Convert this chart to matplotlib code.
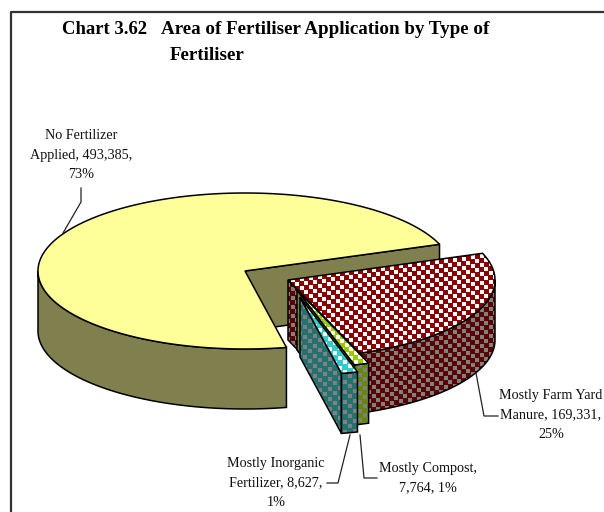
import numpy as np
import matplotlib
matplotlib.use("Agg")
import matplotlib.pyplot as plt
from matplotlib.patches import Polygon

plt.rcParams['font.family'] = ['Liberation Serif', 'DejaVu Serif']

# data
labels = ["No Fertilizer\nApplied, 493,385,\n73%",
          "Mostly Farm Yard\nManure, 169,331,\n25%",
          "Mostly Compost,\n7,764, 1%",
          "Mostly Inorganic\nFertilizer, 8,627,\n1%"]
values = np.array([493385, 169331, 7764, 8627])

# drawn in clockwise order from the start angle, in screen pixels
order = [1, 2, 3, 0]
centers = {0: (245, 271), 1: (288, 280), 2: (297, 290), 3: (300, 297)}
top_col = {0: '#FFFF99', 1: '#8B0000', 2: '#99CC00', 3: '#33CCCC'}
wall_col = {0: '#80804F', 1: '#5A0000', 2: '#668800', 3: '#237272'}
dot_gap = {1: 9.0, 2: 9.0, 3: 10.0}
rx, ry, depth = 207, 78, 60
start = 20.0

fig = plt.figure(figsize=(6.04, 5.12), dpi=100)
ax = fig.add_axes([0, 0, 1, 1])
ax.set_xlim(0, 604)
ax.set_ylim(512, 0)
ax.axis('off')


def rim(c, a0, a1):
    t = np.radians(np.linspace(a0, a1, max(int(abs(a1 - a0) * 2), 2)))
    return np.column_stack([c[0] + rx * np.cos(t), c[1] - ry * np.sin(t)])


def face(pts, col, z, dot=None, gap=8.0):
    p = Polygon(pts, closed=True, facecolor=col, edgecolor='none', zorder=z)
    ax.add_patch(p)
    if dot:
        # staggered little squares, clipped to the face
        jj, ii = np.mgrid[0:130, 0:80]
        dx = ii * gap + (jj % 2) * gap / 2
        dy = jj * gap / 2 - dx / 8.0 + 60
        s = ax.scatter(dx.ravel(), dy.ravel(), s=5, marker='s', color=dot, linewidths=0, zorder=z)
        s.set_clip_path(p)
    ax.add_patch(Polygon(pts, closed=True, fill=False, edgecolor='black', lw=1.1, zorder=z))


angle = start
spans = {}
for i in order:
    sweep = values[i] / values.sum() * 360
    spans[i] = (angle, angle - sweep)
    angle -= sweep

down = np.array([0, depth])

# yellow slice first, it sits behind the rest
a0, a1 = spans[0]
c = centers[0]
cpt = np.array(c)
r = rim(c, a0, a1)
face(np.vstack([cpt, r[-1], r[-1] + down, cpt + down]), wall_col[0], 2)
o = rim(c, -180, a0)
face(np.vstack([o, (o + down)[::-1]]), wall_col[0], 3)
face(np.vstack([cpt, r]), top_col[0], 4)

z = 6
for i in [1, 2, 3]:
    a0, a1 = spans[i]
    c = centers[i]
    cpt = np.array(c)
    r = rim(c, a0, a1)
    face(np.vstack([cpt, r[-1], r[-1] + down, cpt + down]), wall_col[i], z, '#808080', dot_gap[i])
    o = rim(c, min(a0, 0), a1)
    face(np.vstack([o, (o + down)[::-1]]), wall_col[i], z + 1, '#808080', dot_gap[i])
    face(np.vstack([cpt, r]), top_col[i], z + 2, 'white', dot_gap[i])
    z += 3

# frame, only top and left are visible
ax.plot([11, 11, 604], [512, 12, 12], color='#333333', lw=1.6, zorder=1)

# title
ax.text(62, 29, "Chart 3.62", fontsize=13.4, fontweight='bold', ha='left', va='center')
ax.text(161, 29, "Area of Fertiliser Application by Type of", fontsize=13.7,
        fontweight='bold', ha='left', va='center')
ax.text(170, 55, "Fertiliser", fontsize=13.7, fontweight='bold', ha='left', va='center')

# labels
lab_pos = [(81, 155), (551, 415), (428, 478), (276, 483)]
for t, (x, y) in zip(labels, lab_pos):
    ax.text(x, y, t, fontsize=10.2, ha='center', va='center', linespacing=1.66, color='#111111', zorder=20)

# leader lines
leaders = [([81, 81, 63], [188, 202, 233]),
           ([476, 484, 498], [373, 416, 416]),
           ([360, 364, 377], [435, 478, 478]),
           ([350, 338, 327], [435, 483, 483])]
for lx, ly in leaders:
    ax.plot(lx, ly, color='#222222', lw=0.9, zorder=19)

fig.savefig('out.png', dpi=100)
